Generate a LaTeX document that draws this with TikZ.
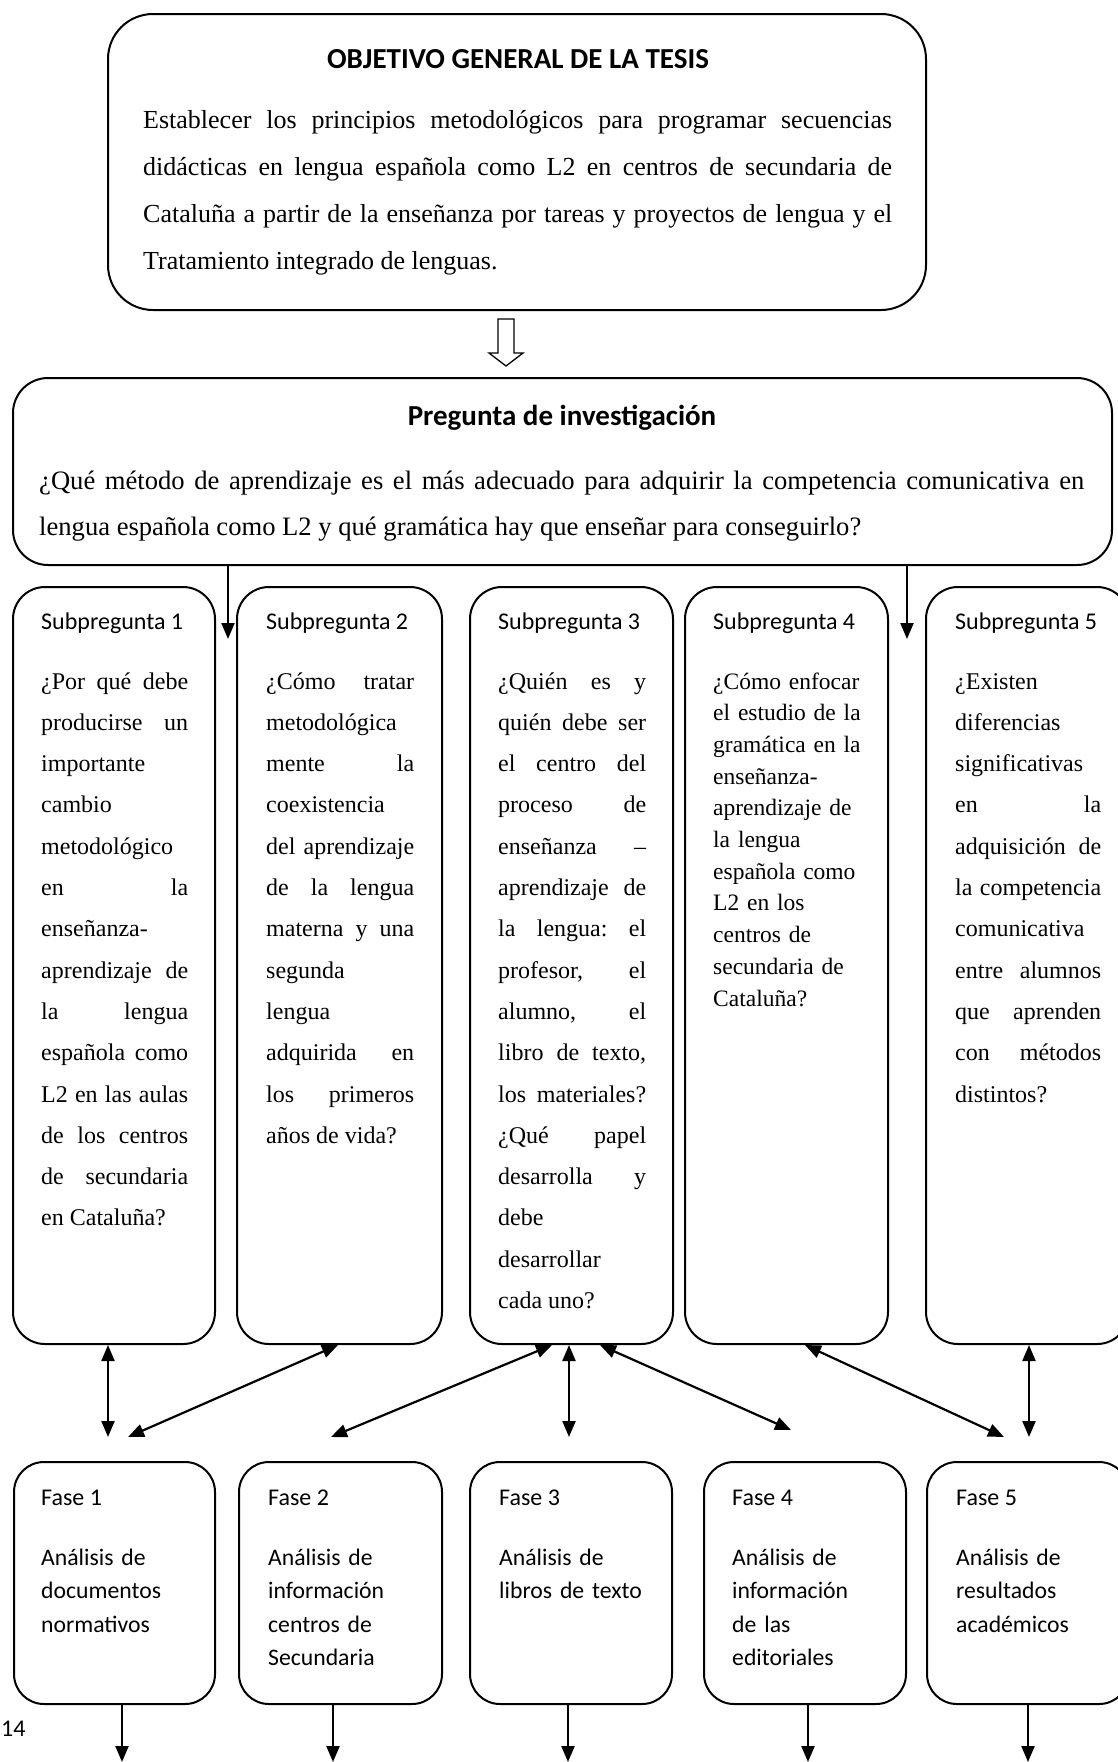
\documentclass[tikz,border=0pt]{standalone}
\usepackage{fontspec}
\setmainfont{Liberation Serif}
\newfontfamily\calibri{Carlito}
\usetikzlibrary{arrows.meta}
\tolerance=10000
\hbadness=10000
\hfuzz=4pt
\hyphenpenalty=10000
\exhyphenpenalty=10000
\frenchspacing
\begin{document}
\begin{tikzpicture}[x=1pt,y=-1pt,
  box/.style={draw, line width=2pt, inner sep=0pt, rounded corners=#1},
  ttl/.style={anchor=base, inner sep=0pt, font=\calibri\bfseries\fontsize{29pt}{34pt}\selectfont},
  lbl/.style={anchor=base west, inner sep=0pt, font=\calibri\fontsize{24pt}{30pt}\selectfont},
  para/.style={anchor=base west, inner sep=0pt, text width=#1, align=justify},
  subtxt/.style={anchor=base west, inner sep=0pt, text width=#1, align=justify, font=\fontsize{24pt}{41.3pt}\selectfont},
  fasetxt/.style={anchor=base west, inner sep=0pt, text width=170pt, align=left, font=\calibri\fontsize{23.7pt}{33.6pt}\selectfont},
  arr/.style={line width=2.2pt, -{Triangle[length=16pt,width=13pt]}},
  biarr/.style={line width=2.2pt, {Triangle[length=16pt,width=13pt]}-{Triangle[length=16pt,width=13pt]}}
]
\fill[white] (0,0) rectangle (1117,1762);
\useasboundingbox (0,0) rectangle (1117,1762);

% Objetivo general
\node[box=45pt, minimum width=818pt, minimum height=296pt] (obj) at (517,162) {};
\node[ttl] (objt) at (518,68) {OBJETIVO GENERAL DE LA TESIS};
\node[para=749pt, font=\fontsize{26pt}{47pt}\selectfont] (objx) at (143,128)
 {Establecer los principios metodológicos para programar secuencias\linebreak
  didácticas en lengua española como L2 en centros de secundaria de\linebreak
  Cataluña a partir de la enseñanza por tareas y proyectos de lengua y el\linebreak
  Tratamiento integrado de lenguas.};

% hollow arrow
\draw[line width=1.3pt, fill=white] (498,319) -- (514,319) -- (514,353) -- (523,353)
  -- (506,366) -- (489,353) -- (498,353) -- cycle;

% Pregunta de investigacion
\node[box=35pt, minimum width=1099pt, minimum height=187pt] (preg) at (562.5,471.5) {};
\node[ttl] (pregt) at (562,425) {Pregunta de investigación};
\node[para=1045pt, font=\fontsize{26.6pt}{46pt}\selectfont] (pregx) at (39,489)
 {¿Qué método de aprendizaje es el más adecuado para adquirir la competencia comunicativa en\linebreak
  lengua española como L2 y qué gramática hay que enseñar para conseguirlo?};

\coordinate (t1) at (228,639);
\coordinate (t2) at (907,639);
\draw[arr] (preg.south -| t1) -- (t1);
\draw[arr] (preg.south -| t2) -- (t2);

% Subpreguntas
\node[box=32pt, minimum width=202pt, minimum height=757pt] (S1) at (114,965.5) {};
\node[box=32pt, minimum width=205pt, minimum height=757pt] (S2) at (339.5,965.5) {};
\node[box=32pt, minimum width=203pt, minimum height=757pt] (S3) at (571.5,965.5) {};
\node[box=32pt, minimum width=203pt, minimum height=757pt] (S4) at (786.5,965.5) {};
\node[box=32pt, minimum width=203pt, minimum height=757pt] (S5) at (1027.5,965.5) {};

\node[lbl] (S1t) at (41,629) {Subpregunta 1};
\node[lbl] (S2t) at (266,629) {Subpregunta 2};
\node[lbl] (S3t) at (498,629) {Subpregunta 3};
\node[lbl] (S4t) at (713,629) {Subpregunta 4};
\node[lbl] (S5t) at (955,629) {Subpregunta 5};

\node[subtxt=147pt] (S1x) at (41,689)
 {¿Por qué debe\linebreak producirse un\linebreak importante\linebreak cambio\linebreak
  metodológico\linebreak en la\linebreak enseñanza-\linebreak{}aprendizaje de\linebreak
  la lengua\linebreak española como\linebreak L2 en las aulas\linebreak de los centros\linebreak
  de secundaria\linebreak en Cataluña?};
\node[subtxt=148pt] (S2x) at (266,689)
 {¿Cómo tratar\linebreak metodológica\linebreak mente la\linebreak coexistencia\linebreak
  del aprendizaje\linebreak de la lengua\linebreak materna y una\linebreak segunda\linebreak
  lengua\linebreak adquirida en\linebreak los primeros\linebreak años de vida?};
\node[subtxt=148pt] (S3x) at (498,689)
 {¿Quién es y\linebreak quién debe ser\linebreak el centro del\linebreak proceso de\linebreak
  enseñanza –\linebreak aprendizaje de\linebreak la lengua: el\linebreak profesor, el\linebreak
  alumno, el\linebreak libro de texto,\linebreak los materiales?\linebreak ¿Qué papel\linebreak
  desarrolla y\linebreak debe\linebreak desarrollar\linebreak cada uno?};
\node[subtxt=160pt, align=left, font=\fontsize{23.5pt}{31.7pt}\selectfont] (S4x) at (713,689)
 {¿Cómo enfocar\\ el estudio de la\\ gramática en la\\ enseñanza-\\ aprendizaje de\\
  la lengua\\ española como\\ L2 en los\\ centros de\\ secundaria de\\ Cataluña?};
\node[subtxt=146pt] (S5x) at (955,689)
 {¿Existen\linebreak diferencias\linebreak significativas\linebreak en la\linebreak
  adquisición de\linebreak la competencia\linebreak comunicativa\linebreak entre alumnos\linebreak
  que aprenden\linebreak con métodos\linebreak distintos?};

% Fases
\node[box=30pt, minimum width=201pt, minimum height=242pt] (F1) at (114.5,1583) {};
\node[box=30pt, minimum width=203pt, minimum height=242pt] (F2) at (340.5,1583) {};
\node[box=30pt, minimum width=202pt, minimum height=242pt] (F3) at (571,1583) {};
\node[box=30pt, minimum width=202pt, minimum height=242pt] (F4) at (805,1583) {};
\node[box=30pt, minimum width=202pt, minimum height=242pt] (F5) at (1028,1583) {};

\node[lbl] (F1t) at (41,1505) {Fase 1};
\node[lbl] (F2t) at (268,1505) {Fase 2};
\node[lbl] (F3t) at (499,1505) {Fase 3};
\node[lbl] (F4t) at (732,1505) {Fase 4};
\node[lbl] (F5t) at (956,1505) {Fase 5};

\node[fasetxt] (F1x) at (41,1565) {Análisis de\\documentos\\normativos};
\node[fasetxt] (F2x) at (268,1565) {Análisis de\\información\\centros de\\Secundaria};
\node[fasetxt] (F3x) at (499,1565) {Análisis de\\libros de texto};
\node[fasetxt] (F4x) at (732,1565) {Análisis de\\información\\de las\\editoriales};
\node[fasetxt] (F5x) at (956,1565) {Análisis de\\resultados\\académicos};

% double arrows between subpreguntas and fases
\coordinate (m1) at (108,1437);
\coordinate (m2) at (128,1437);
\coordinate (m3) at (331,1437);
\coordinate (m4) at (569,1437);
\coordinate (m5) at (791,1430);
\coordinate (m6) at (1004,1437);
\coordinate (m7) at (1029,1437);
\draw[biarr] (S1.south -| m1) -- (m1);
\draw[biarr] ([xshift=-1.5pt]S2.south) -- (m2);
\draw[biarr] ([xshift=-19.5pt]S3.south) -- (m3);
\draw[biarr] (S3.south -| m4) -- (m4);
\draw[biarr] ([xshift=28.5pt]S3.south) -- (m5);
\draw[biarr] ([xshift=18.5pt]S4.south) -- (m6);
\draw[biarr] (S5.south -| m7) -- (m7);

% bottom arrows
\coordinate (b1) at (122,1762);
\coordinate (b2) at (333,1762);
\coordinate (b3) at (568,1762);
\coordinate (b4) at (808,1762);
\coordinate (b5) at (1028,1762);
\draw[arr] (F1.south -| b1) -- (b1);
\draw[arr] (F2.south -| b2) -- (b2);
\draw[arr] (F3.south -| b3) -- (b3);
\draw[arr] (F4.south -| b4) -- (b4);
\draw[arr] (F5.south -| b5) -- (b5);

% page number
\node[anchor=base west, inner sep=0pt, font=\calibri\fontsize{24pt}{30pt}\selectfont] (pg) at (1,1736) {14};
\end{tikzpicture}
\end{document}
